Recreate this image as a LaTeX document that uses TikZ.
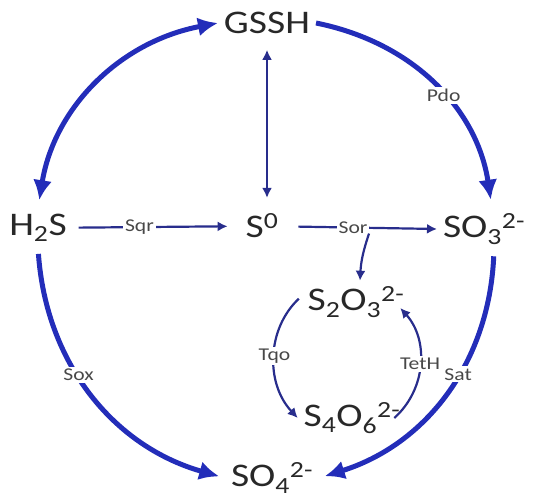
\documentclass[tikz,border=0pt]{standalone}
\usepackage{fontspec}
\setmainfont[FakeStretch=1.2]{Carlito}
\usepackage{xcolor}
\definecolor{pathblue}{RGB}{35, 45, 185}
\definecolor{enzblue}{RGB}{40, 45, 140}
\definecolor{chemgray}{RGB}{40, 40, 40}
\usetikzlibrary{arrows.meta}

\tikzset{
  species/.style={text=chemgray, font=\fontsize{33}{35}\selectfont, inner sep=2pt, outer sep=4pt},
  enzyme/.style={text=chemgray!85, font=\fontsize{18}{20}\selectfont, fill=white, inner sep=2pt},
  thickarrow/.style={draw=pathblue, line width=5pt, -{Latex[length=20pt,width=19pt]}},
  thinarrow/.style={draw=enzblue, line width=2.2pt, -{Latex[length=10pt,width=10pt]}}
}

\begin{document}
\begin{tikzpicture}[x=1pt,y=-1pt]
    \useasboundingbox (0,0) rectangle (533,500);
    % species
    \node[species] (gssh) at (267,23) {GSSH};
    \node[species] (h2s) at (38,228) {H\textsubscript{2}S};
    \node[species] (s0) at (262,226) {S\textsuperscript{0}};
    \node[species, anchor=west] (so3) at (437,229) {SO\textsubscript{3}\textsuperscript{2-}};
    \node[species] (s2o3) at (356,302) {S\textsubscript{2}O\textsubscript{3}\textsuperscript{2-}};
    \node[species] (s4o6) at (352,418) {S\textsubscript{4}O\textsubscript{6}\textsuperscript{2-}};
    \node[species] (so4) at (272,478) {SO\textsubscript{4}\textsuperscript{2-}};

    % outer cycle
    \draw[thickarrow, {Latex[length=20pt,width=19pt]}-{Latex[length=20pt,width=19pt]}, shorten <=8pt]
      (h2s.north) to[bend left=35] (gssh.west);
    \draw[thickarrow, shorten >=8pt] (gssh.east) to[bend left=35]
      node[enzyme, pos=0.55] {Pdo} ([xshift=8pt]so3.north);
    \draw[thickarrow, shorten <=6pt, shorten >=6pt] (h2s.south) to[bend right=35]
      node[enzyme, pos=0.42] {Sox} (so4.west);
    \draw[thickarrow, shorten <=6pt, shorten >=6pt] ([xshift=10pt]so3.south) to[bend left=35]
      node[enzyme, pos=0.42] {Sat} (so4.east);

    % inner arrows
    \draw[thinarrow, {Latex[length=10pt,width=10pt]}-{Latex[length=10pt,width=10pt]}, shorten <=10pt, shorten >=10pt]
      (gssh.south) -- (gssh.south |- s0.north);
    \draw[thinarrow, shorten <=6pt, shorten >=12pt] (h2s) -- node[enzyme, pos=0.4] {Sqr} (s0);
    \draw[thinarrow, shorten <=14pt] (s0) -- node[enzyme, pos=0.45] (sor) {Sor} (so3.west);
    \draw[thinarrow] ([xshift=16pt,yshift=3pt]sor.south) to[bend right=8] ([xshift=4pt]s2o3.north);
    \draw[thinarrow, shorten <=4pt] ([yshift=6pt]s2o3.west) to[bend right=45]
      node[enzyme] {Tqo} (s4o6.west);
    \draw[thinarrow] ([xshift=-12pt]s4o6.east) to[bend right=45]
      node[enzyme] {TetH} ([xshift=-10pt,yshift=-6pt]s2o3.east);
\end{tikzpicture}
\end{document}
